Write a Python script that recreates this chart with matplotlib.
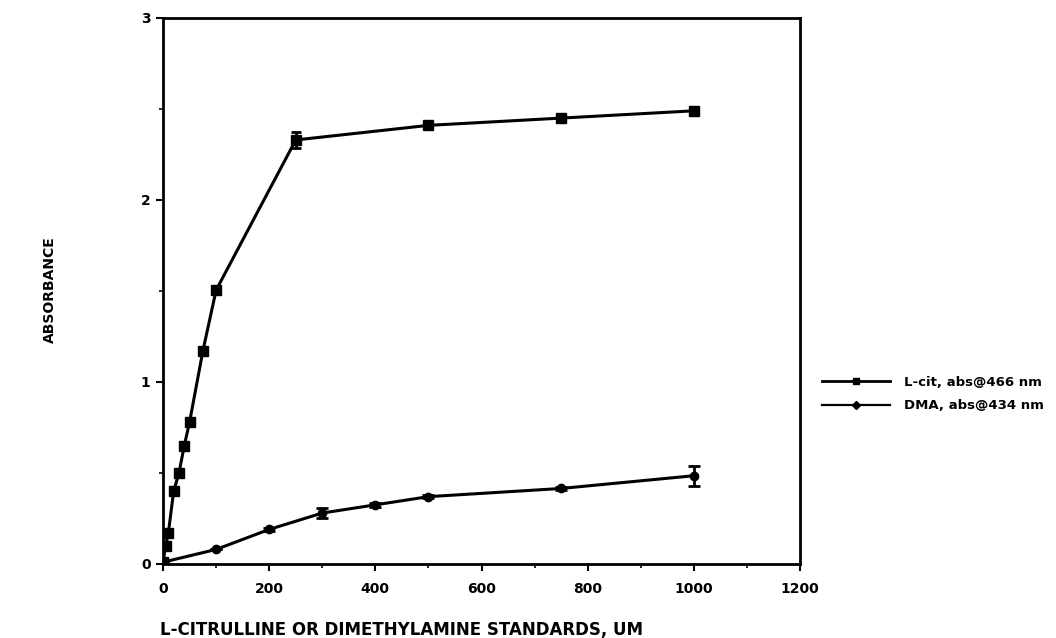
import numpy as np
import matplotlib
matplotlib.use('Agg')
import matplotlib.pyplot as plt
from matplotlib.ticker import MultipleLocator
from matplotlib.lines import Line2D

#===============================================================================
# values
lcit_x   = [0, 5, 10, 20, 30, 40, 50, 75, 100, 250, 500, 750, 1000]
lcit_y   = [0.01, 0.10, 0.17, 0.40, 0.50, 0.65, 0.78, 1.17, 1.505, 2.33, 2.41, 2.45, 2.49]
lcit_err = [0, 0, 0, 0, 0, 0, 0, 0, 0.01, 0.045, 0.01, 0.01, 0.01]

dma_x   = [0, 100, 200, 300, 400, 500, 750, 1000]
dma_y   = [0.01, 0.08, 0.19, 0.28, 0.325, 0.37, 0.415, 0.485]
dma_err = [0, 0, 0.01, 0.03, 0.01, 0.01, 0.01, 0.055]

lcit_label = "L-cit, abs@466 nm"
dma_label  = "DMA, abs@434 nm"
x_title = "L-CITRULLINE OR DIMETHYLAMINE STANDARDS, UM"
y_title = "ABSORBANCE"
#===============================================================================
plt.rcParams['font.family'] = 'DejaVu Sans'
plt.rcParams['font.weight'] = 'bold'

fig = plt.figure(figsize=(10.56, 6.38), dpi=100)
ax  = fig.add_axes([0.1544, 0.116, 0.6032, 0.8558])

ax.errorbar(lcit_x, lcit_y, yerr=lcit_err, color='black', lw=2.2,
            marker='s', ms=6.5, capsize=3.5, elinewidth=2, capthick=2)
ax.errorbar(dma_x, dma_y, yerr=dma_err, color='black', lw=2.2,
            marker='o', ms=6, capsize=4, elinewidth=2, capthick=2)

ax.set_xlim(0, 1200)
ax.set_ylim(0, 3)
ax.xaxis.set_major_locator(MultipleLocator(200))
ax.xaxis.set_minor_locator(MultipleLocator(100))
ax.yaxis.set_major_locator(MultipleLocator(1))
ax.yaxis.set_minor_locator(MultipleLocator(0.5))
ax.tick_params(which='major', direction='out', length=5, width=1.5, labelsize=10, pad=4)
ax.tick_params(which='minor', direction='out', length=3, width=1.2)
ax.tick_params(axis='x', pad=8)
for lbl in ax.get_xticklabels() + ax.get_yticklabels():
    lbl.set_fontweight('bold')
for sp in ax.spines.values():
    sp.set_linewidth(2)

fig.text(401/1056., 1 - 630/638., x_title, ha='center', va='center',
         fontsize=12, fontweight='bold')
fig.text(50/1056., 1 - 290/638., y_title, ha='center', va='center',
         rotation=90, fontsize=10, fontweight='bold')

# legend handles: plain line + marker, no error bars
h_lcit = Line2D([], [], color='black', lw=2, marker='s', ms=5)
h_dma  = Line2D([], [], color='black', lw=1.6, marker='D', ms=4.5)
leg = fig.legend([h_lcit, h_dma], [lcit_label, dma_label],
                 loc='center left', bbox_to_anchor=(810/1056., 1 - 394/638.),
                 frameon=False, handlelength=5.2, fontsize=9.5,
                 labelspacing=0.8, handletextpad=1.0)
for t in leg.get_texts():
    t.set_fontweight('bold')

plt.savefig('out.png', dpi=100)
